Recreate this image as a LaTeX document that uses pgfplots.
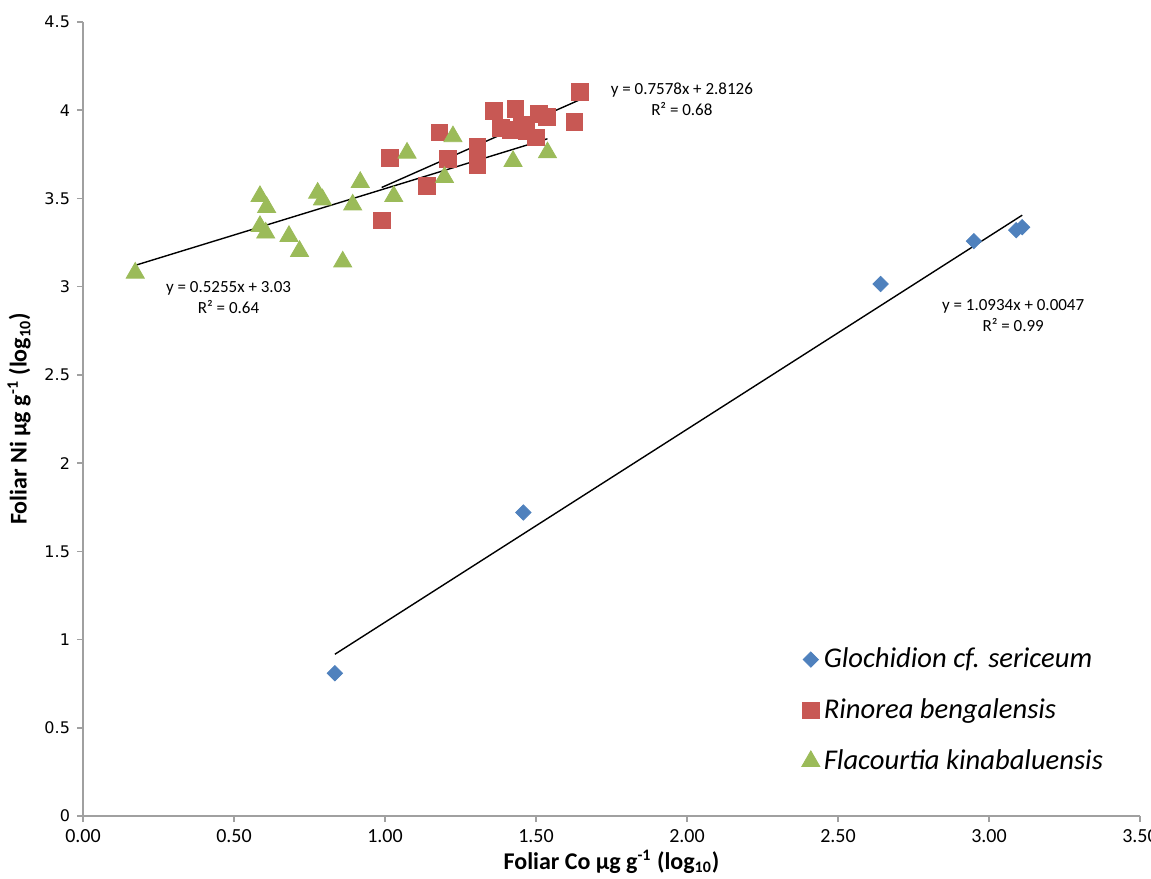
\documentclass[border=0pt]{standalone}
\usepackage{fontspec}
\setmainfont{Carlito}
\newfontfamily\verd{DejaVu Sans}
\usepackage{pgfplots}
\pgfplotsset{compat=1.18}
\definecolor{gsblue}{RGB}{79,129,189}
\definecolor{rbred}{RGB}{200,88,84}
\definecolor{fkgreen}{RGB}{155,187,89}
\definecolor{axgray}{RGB}{160,160,160}

\begin{document}
\begin{tikzpicture}
\begin{axis}[
    scale only axis,
    width=528.5pt, height=397pt,
    xmin=0, xmax=3.5, ymin=0, ymax=4.5,
    xtick={0,0.5,...,3.5}, ytick={0,0.5,...,4.5},
    axis lines=left,
    axis line style={axgray, line width=0.8pt, -},
    tick style={axgray, line width=0.8pt},
    tick align=outside, major tick length=3pt,
    /pgf/number format/assume math mode=true,
    xticklabel style={font=\fontsize{10}{12}\selectfont,
        /pgf/number format/.cd, fixed, fixed zerofill, precision=2},
    yticklabel style={font=\verd\fontsize{8}{10}\selectfont},
    xlabel={\textbf{Foliar Co µg g\textsuperscript{-1} (log\textsubscript{10})}},
    ylabel={\textbf{Foliar Ni µg g\textsuperscript{-1} (log\textsubscript{10})}},
    label style={font=\fontsize{12}{14}\selectfont},
    xlabel style={yshift=3pt},
    legend style={at={(rel axis cs:0.674,0.222)}, anchor=north west,
        draw=none, fill=none, font=\itshape\fontsize{14.3}{17}\selectfont,
        row sep=10pt, nodes={inner sep=2pt}},
    legend cell align=left,
    clip=false,
]
% Glochidion cf. sericeum
\addplot[only marks, mark=square*, mark size=2.7pt,
    mark options={rotate=45, fill=gsblue, draw=gsblue}] coordinates {
(0.834,0.809) (1.458,1.72) (2.641,3.015) (2.950,3.258) (3.090,3.32) (3.110,3.337)
};
\addlegendentry{Glochidion cf. sericeum}
% Rinorea bengalensis
\addplot[only marks, mark=square*, mark size=4.2pt,
    mark options={fill=rbred, draw=rbred}] coordinates {
(1.645,4.106) (1.361,3.997) (1.432,4.008) (1.509,3.977) (1.535,3.964)
(1.627,3.932) (1.180,3.874) (1.385,3.898) (1.416,3.889) (1.454,3.917)
(1.468,3.883) (1.499,3.846) (1.306,3.795) (1.306,3.739) (1.306,3.688)
(1.209,3.726) (1.015,3.730) (1.139,3.569) (0.989,3.375)
};
\addlegendentry{Rinorea bengalensis}
% Flacourtia kinabaluensis
\addplot[only marks, mark=triangle*, mark size=5.2pt,
    mark options={fill=fkgreen, draw=fkgreen}] coordinates {
(0.173,3.078) (0.586,3.512) (0.608,3.450) (0.586,3.342) (0.605,3.305)
(0.682,3.286) (0.717,3.201) (0.777,3.531) (0.793,3.493) (0.860,3.141)
(0.893,3.464) (0.918,3.592) (1.029,3.512) (1.073,3.758) (1.197,3.620)
(1.225,3.851) (1.424,3.711) (1.538,3.760)
};
\addlegendentry{Flacourtia kinabaluensis}
% trend lines
\addplot[black, line width=0.7pt, forget plot] coordinates {(0.834,0.9166) (3.110,3.4052)};
\addplot[black, line width=0.7pt, forget plot] coordinates {(0.989,3.5621) (1.645,4.0592)};
\addplot[black, line width=0.7pt, forget plot] coordinates {(0.173,3.1209) (1.538,3.8382)};
% equations
\node[align=center, font=\fontsize{8.5}{10.5}\selectfont] at (axis cs:1.983,4.064)
    {y = 0.7578x + 2.8126\\R² = 0.68};
\node[align=center, font=\fontsize{8.5}{10.5}\selectfont] at (axis cs:0.482,2.941)
    {y = 0.5255x + 3.03\\R² = 0.64};
\node[align=center, font=\fontsize{8.5}{10.5}\selectfont] at (axis cs:3.080,2.834)
    {y = 1.0934x + 0.0047\\R² = 0.99};
\end{axis}
\pgfresetboundingbox
\path (-41.5pt,-31pt) rectangle (534pt,408pt);
\end{tikzpicture}
\end{document}
